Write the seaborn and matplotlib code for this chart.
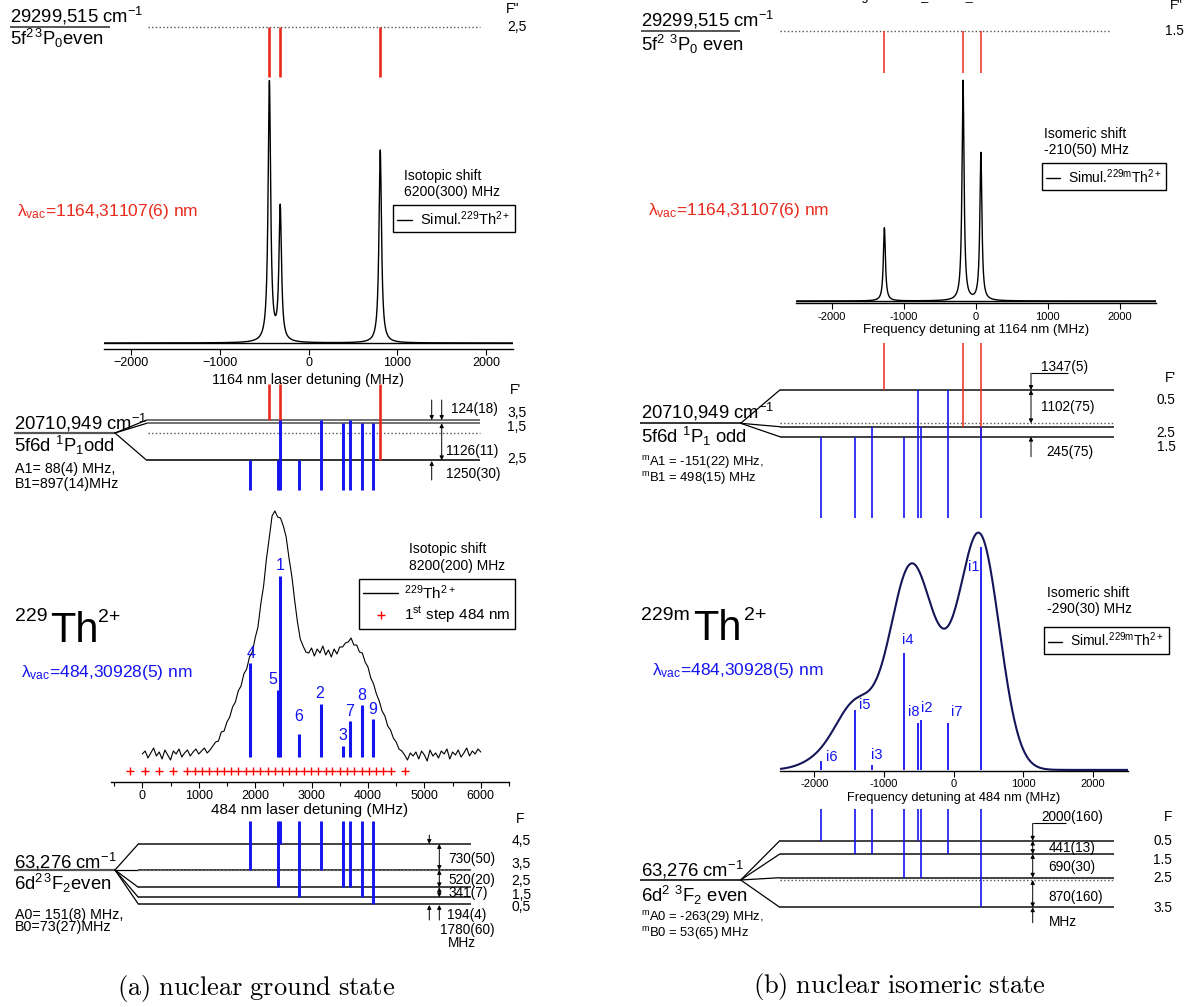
import numpy as np
import matplotlib
matplotlib.use("Agg")
import matplotlib.pyplot as plt
import seaborn as sns
from matplotlib.transforms import blended_transform_factory
from matplotlib.collections import LineCollection
from matplotlib.lines import Line2D
from matplotlib.ticker import MultipleLocator, FuncFormatter

# ====================== DATA ======================
# (a) nuclear ground state, 1164 nm step (simulated 229Th2+)
gs1164_peak_mhz = [-440, -318, 807]
gs1164_amp = [1.0, 0.515, 0.742]
gs1164_fprime = [3.5, 1.5, 2.5]          # from F''=2.5
lorentz_hwhm_mhz = 17

# (a) 484 nm step, measured scan
scan_start_mhz = 0
scan_step_mhz = 50
gs484_signal = [3, 6, -1, 4, 9, 1, 5, -2, 7, 2, -3, 6, 3, 8, 0, 4, 7, 1, 5, 8, 3, 6, 9, 4, 7,
                11, 15, 16, 25, 26, 35, 40, 50, 55, 66, 71, 83, 88, 100, 105, 119, 130, 153, 171, 198, 219, 241,
                246, 240, 239, 231, 220, 199, 181, 157, 135, 118,
                111, 105, 104, 109, 101, 108, 104, 111, 102, 107, 100, 108, 103, 110, 110, 114, 115, 119, 112, 112, 105, 104,
                95, 90, 79, 73, 63, 56, 46, 41, 31, 27, 19, 15, 8, 6, 2, -3, 4, 1,
                5, -2, 6, 2, -4, 7, 1, 4, -1, 6, 3, 8, -2, 5, 2, 7, 0, 4, 9, 1, 6, 3, 8, 5]
gs484_step_mhz = [-220, 40, 300, 550, 800, 930, 1060, 1190, 1320, 1450, 1580, 1700, 1830, 1960,
                  2090, 2220, 2350, 2480, 2600, 2730, 2860, 2990, 3120, 3250, 3370, 3500, 3630,
                  3760, 3890, 4020, 4140, 4270, 4400, 4660]
gs484_label = ["4", "5", "1", "6", "2", "3", "7", "8", "9"]
gs484_mhz = [1910, 2400, 2440, 2773, 3168, 3553, 3677, 3895, 4096]
gs484_height = [94, 67, 181, 23, 53, 11, 36, 52, 38]
gs484_fprime = [2.5, 2.5, 3.5, 2.5, 3.5, 1.5, 3.5, 1.5, 1.5]
gs484_f = [3.5, 2.5, 4.5, 1.5, 3.5, 2.5, 2.5, 1.5, 0.5]

# (b) nuclear isomeric state, 1164 nm step (simulated 229mTh2+)
is1164_peak_mhz = [-1270, -178, 70]
is1164_amp = [0.333, 1.0, 0.671]
is1164_fprime = [0.5, 2.5, 1.5]          # from F''=1.5

# (b) 484 nm step (simulated)
is484_label = ["i1", "i2", "i3", "i4", "i5", "i6", "i7", "i8"]
is484_mhz = [386, -473, -1165, -718, -1415, -1900, -76, -517]
is484_height = [224, 50, 5, 117, 60, 9, 47, 47]
is484_fprime = [2.5, 2.5, 2.5, 1.5, 1.5, 1.5, 0.5, 0.5]
is484_f = [3.5, 2.5, 1.5, 2.5, 1.5, 0.5, 1.5, 0.5]
gauss_sigma_mhz = 280

# ====================== STYLE ======================
sns.set_theme(style="white", rc={"text.color": "black", "axes.labelcolor": "black",
                                 "xtick.color": "black", "axes.edgecolor": "black"})
plt.rcParams["font.family"] = ["Liberation Sans", "DejaVu Sans"]
plt.rcParams["mathtext.fontset"] = "custom"
plt.rcParams["mathtext.rm"] = "Liberation Sans"
plt.rcParams["mathtext.it"] = "Liberation Sans:italic"
plt.rcParams["mathtext.bf"] = "Liberation Sans:bold"
plt.rcParams["mathtext.sf"] = "Liberation Sans"
plt.rcParams["mathtext.default"] = "regular"

RED = "#e8291c"
BLUE = "#1414f0"
NAVY = "#15155a"
GRAY = "#555555"

W, H = 1193, 1007
fig = plt.figure(figsize=(W / 100, H / 100), dpi=100)
bg = fig.add_axes([0, 0, 1, 1])
bg.set_xlim(0, W)
bg.set_ylim(H, 0)
bg.set_axis_off()
bg.set_autoscale_on(False)


def box(x0, y0, x1, y1):
    return [x0 / W, 1 - y1 / H, (x1 - x0) / W, (y1 - y0) / H]


def style_spec(ax, xlim, ylim, major, minor, fs, hyphen):
    ax.set_xlim(*xlim)
    ax.set_ylim(*ylim)
    for s in ["top", "left", "right"]:
        ax.spines[s].set_visible(False)
    ax.spines["bottom"].set_linewidth(1.0)
    ax.spines["bottom"].set_color("black")
    ax.set_yticks([])
    ax.set_ylabel("")
    ax.xaxis.set_major_locator(MultipleLocator(major))
    if minor:
        ax.xaxis.set_minor_locator(MultipleLocator(minor))
    ax.tick_params(axis="x", which="major", direction="out", length=4, width=0.8,
                   labelsize=fs, pad=2, bottom=True)
    ax.tick_params(axis="x", which="minor", direction="out", length=3, width=0.8, bottom=True)
    if hyphen:
        ax.xaxis.set_major_formatter(FuncFormatter(lambda v, p: f"{v:.0f}"))
    ax.patch.set_visible(False)
    ax.grid(False)


def T(x, y, s, size, ha="left", va="center", color="black", **kw):
    bg.text(x, y, s, fontsize=size, ha=ha, va=va, color=color, **kw)


def hline(x0, x1, y, color="#222222", lw=1.2, ls="-"):
    bg.plot([x0, x1], [y, y], color=color, lw=lw, ls=ls, solid_capstyle="butt")


def line(p0, p1, color="black", lw=1.0):
    bg.plot([p0[0], p1[0]], [p0[1], p1[1]], color=color, lw=lw)


def arrow(x, y_from, y_to, both=False):
    bg.annotate("", xy=(x, y_to), xytext=(x, y_from),
                arrowprops=dict(arrowstyle="<|-|>" if both else "-|>", color="black",
                                lw=0.7, mutation_scale=6, shrinkA=0, shrinkB=0))


def transitions(ax, xs, y0s, y1s, color, lw):
    trans = blended_transform_factory(ax.transData, bg.transData)
    segs = [[(x, a), (x, b)] for x, a, b in zip(xs, y0s, y1s)]
    lc = LineCollection(segs, colors=color, linewidths=lw, transform=trans)
    bg.add_collection(lc, autolim=False)


def sim_legend(ax, label, x0, y0, fs):
    h = [Line2D([0], [0], color="black", lw=1.0)]
    leg = ax.legend(h, [label], loc="upper left", bbox_to_anchor=(x0, y0),
                    bbox_transform=bg.transData, frameon=True, fancybox=False,
                    framealpha=1, edgecolor="black", fontsize=fs, handlelength=1.0,
                    handletextpad=0.6, borderpad=0.3, borderaxespad=0)
    leg.get_frame().set_linewidth(1.0)


# ====================== SPECTRUM AXES ======================
A1 = fig.add_axes(box(104, 80, 513, 348.7))
A2 = fig.add_axes(box(795.8, 75, 1155.9, 303.3))
A3 = fig.add_axes(box(111, 505, 509, 781.7))
A4 = fig.add_axes(box(779.5, 530, 1127.8, 770.7))

# --- A1: 1164 nm, ground state
x1 = np.linspace(-2300, 2300, 4601)
y1 = np.zeros_like(x1)
for p, a in zip(gs1164_peak_mhz, gs1164_amp):
    y1 += a / (1 + ((x1 - p) / lorentz_hwhm_mhz) ** 2)
sns.lineplot(x=x1, y=y1, ax=A1, color="black", lw=1.0, estimator=None, sort=False)
A1.axhline(0, color="black", lw=1.0)
style_spec(A1, (-2300, 2300), (-5.7 / 260, 263 / 260), 1000, None, 9, False)
A1.set_xlabel("1164 nm laser detuning (MHz)", fontsize=10.3, labelpad=2.5)
sim_legend(A1, r"Simul.$^{229}$Th$^{2+}$", 392.7, 205, 10.5)

# --- A2: 1164 nm, isomer
x2 = np.linspace(-2500, 2500, 5001)
y2 = np.zeros_like(x2)
for p, a in zip(is1164_peak_mhz, is1164_amp):
    y2 += a / (1 + ((x2 - p) / lorentz_hwhm_mhz) ** 2)
sns.lineplot(x=x2, y=y2, ax=A2, color="black", lw=1.0, estimator=None, sort=False)
A2.axhline(0, color="black", lw=1.0)
style_spec(A2, (-2500, 2500), (-2.3 / 220, 226 / 220), 1000, None, 8, True)
A2.set_xlabel("Frequency detuning at 1164 nm (MHz)", fontsize=9.5, labelpad=2)
sim_legend(A2, r"Simul.$^{229m}$Th$^{2+}$", 1041.8, 163.3, 10)

# --- A3: 484 nm, measured
scan_mhz = [scan_start_mhz + i * scan_step_mhz for i in range(len(gs484_signal))]
sns.lineplot(x=scan_mhz, y=gs484_signal, ax=A3, color="black", lw=0.8, estimator=None, sort=False)
A3.vlines(gs484_mhz, 0, gs484_height, color=BLUE, lw=2.2)
marker_level = -13.7
sns.scatterplot(x=gs484_step_mhz, y=[marker_level] * len(gs484_step_mhz), ax=A3,
                marker="+", color="red", s=28, linewidth=1.0, legend=False)
style_spec(A3, (-555, 6500), (-24.7, 252), 1000, 500, 9, False)
A3.set_xlabel("484 nm laser detuning (MHz)", fontsize=11, labelpad=1)
gs_label_off = [(0.7, 9.3), (-4.4, 10), (0, 10), (0, 17.6), (-1, 10.7), (0, 10), (0.3, 10), (-0.3, 9.3), (-1, 9.3)]
for lab, m, h, (dx, dy) in zip(gs484_label, gs484_mhz, gs484_height, gs_label_off):
    A3.annotate(lab, (m, h), xytext=(dx * 0.72, dy * 0.72), textcoords="offset points",
                ha="center", va="center", color=BLUE, fontsize=11.5)
h3 = [Line2D([0], [0], color="black", lw=1.0),
      Line2D([0], [0], marker="+", ls="none", color="red", markersize=6, mew=1.0)]
leg3 = A3.legend(h3, [r"$^{229}$Th$^{2+}$", r"1$^{st}$ step 484 nm"], loc="upper left",
                 bbox_to_anchor=(359.3, 579.3), bbox_transform=bg.transData, frameon=True,
                 fancybox=False, framealpha=1, edgecolor="black", fontsize=11,
                 handlelength=2.3, handletextpad=0.4, borderpad=0.25, borderaxespad=0,
                 labelspacing=0.2)
leg3.get_frame().set_linewidth(1.0)

# --- A4: 484 nm, isomer simulation
x4 = np.linspace(-2500, 2500, 1001)
y4 = np.zeros_like(x4)
for m, h in zip(is484_mhz, is484_height):
    y4 += h * np.exp(-(x4 - m) ** 2 / (2 * gauss_sigma_mhz ** 2))
sns.lineplot(x=x4, y=y4, ax=A4, color=NAVY, lw=1.5, estimator=None, sort=False)
A4.vlines(is484_mhz, 0, is484_height, color=BLUE, lw=1.3)
style_spec(A4, (-2500, 2500), (-0.8, 240.7), 1000, None, 8, True)
A4.set_xlabel("Frequency detuning at 484 nm (MHz)", fontsize=9.3, labelpad=2)
is_label_off = [(-7, -20), (5.7, 12.4), (4.2, 9.7), (4.6, 13.3), (9.5, 5.3), (10, 4), (8, 11.3), (-3.5, 11.3)]
for lab, m, h, (dx, dy) in zip(is484_label, is484_mhz, is484_height, is_label_off):
    A4.annotate(lab, (m, h), xytext=(dx * 0.72, dy * 0.72), textcoords="offset points",
                ha="center", va="center", color=BLUE, fontsize=10.5)
sim_legend(A4, r"Simul.$^{229m}$Th$^{2+}$", 1044, 626.7, 10)

# ====================== LEVEL DIAGRAMS (a) ======================
lvlA_up = {3.5: 420, 1.5: 423.3, 2.5: 460.3}
lvlA_low = {4.5: 844, 3.5: 870, 2.5: 887.3, 1.5: 897.3, 0.5: 904}

# top level
T(10, 16, r"29299,515 cm$^{-1}$", 13.3)
T(10, 38, r"5f$^{2\,3}$P$_0$even", 13.3)
hline(10, 110, 27, color=GRAY, lw=1.4)
hline(148, 480, 27, color=GRAY, lw=1.0, ls=":")
T(513, 9, 'F"', 10, ha="center")
T(517, 27, "2,5", 10, ha="center")

# 5f6d level
T(14, 422.7, r"20710,949 cm$^{-1}$", 13.3)
T(14, 445.7, r"5f6d $^1$P$_1$odd", 13.3)
T(15, 469, "A1= 88(4) MHz,", 10.3)
T(15, 484, "B1=897(14)MHz", 10.3)
hline(14, 115, 433, color=GRAY, lw=1.6)
for f, y in lvlA_up.items():
    line((115, 433), (146.7, y), lw=0.9)
    hline(146.7, 480, y, color="#666666" if f != 2.5 else "#222222", lw=1.3)
hline(148, 480, 433, color=GRAY, lw=1.0, ls=":")
arrow(431.7, 400, 420)
arrow(441.7, 400, 420)
arrow(441.7, 423.3, 460.3, both=True)
arrow(431.7, 480, 461)
T(450.7, 409.3, "124(18)", 9.8)
T(446, 450.7, "1126(11)", 9.8)
T(446, 474, "1250(30)", 9.8)
T(515, 390, "F'", 10, ha="center")
for f, y in zip([3.5, 1.5, 2.5], [413.3, 426.7, 459]):
    T(507.3, y, f"{f:.1f}".replace(".", ","), 10)

# 6d2 level
T(14, 861.7, r"63,276 cm$^{-1}$", 13.3)
T(14, 883.3, r"6d$^{2\,3}$F$_2$even", 13.3)
T(15, 915, "A0= 151(8) MHz,", 10.3)
T(15, 926.7, "B0=73(27)MHz", 10.3)
hline(14, 115, 870, color=GRAY, lw=1.6)
for f, y in lvlA_low.items():
    line((115, 870), (138.3, y), lw=0.9)
    hline(138.3, 470.7, y, color="#222222", lw=1.2)
hline(138.3, 470.7, 870, color="#888888", lw=1.0, ls=":")
arrow(429.3, 835, 844)
arrow(439.3, 844, 870, both=True)
arrow(439.3, 870, 887.3, both=True)
arrow(439.3, 887.3, 897.3, both=True)
arrow(429.3, 920, 905)
arrow(439.3, 920, 905)
T(448.3, 859, "730(50)", 9.8)
T(448.3, 880, "520(20)", 9.8)
T(448.3, 893.3, "341(7)", 9.8)
T(446.7, 915, "194(4)", 9.8)
T(440, 930, "1780(60)", 9.8)
T(448, 943.3, "MHz", 9.8)
T(520, 819.3, "F", 10, ha="center")
for f, y in zip([4.5, 3.5, 2.5, 1.5, 0.5], [841, 864, 880.7, 895, 907.3]):
    T(511.7, y, f"{f:.1f}".replace(".", ","), 10)

# big labels (a)
T(16.7, 211.7, r"λ$_{vac}$=1164,31107(6) nm", 12.5, color=RED)
T(20.7, 672.3, r"λ$_{vac}$=484,30928(5) nm", 12.5, color=BLUE)
T(15, 621, "229", 14, va="baseline")
T(50, 641.7, "Th", 30, va="baseline")
T(98.3, 621.7, "2+", 14, va="baseline")
T(409.3, 549.3, "Isotopic shift", 10)
T(409.3, 565.7, "8200(200) MHz", 10)
T(404, 176, "Isotopic shift", 10)
T(404, 192, "6200(300) MHz", 10)

# transitions (a)
transitions(A1, gs1164_peak_mhz, [27] * 3, [77] * 3, RED, 1.9)
transitions(A1, gs1164_peak_mhz, [384] * 3, [lvlA_up[f] for f in gs1164_fprime], RED, 1.9)
transitions(A3, gs484_mhz, [lvlA_up[f] for f in gs484_fprime], [490] * len(gs484_mhz), BLUE, 2.1)
transitions(A3, gs484_mhz, [820.7] * len(gs484_mhz), [lvlA_low[f] for f in gs484_f], BLUE, 2.1)

# ====================== LEVEL DIAGRAMS (b) ======================
lvlB_up = {0.5: 390, 2.5: 426.7, 1.5: 436.7}
lvlB_low = {0.5: 840.7, 1.5: 854, 2.5: 877.7, 3.5: 907.3}

T(930, -3, "Fig. 229mTh_isomer_84.ear", 9, ha="center")
T(641, 20, r"29299,515 cm$^{-1}$", 13.3)
T(641, 44, r"5f$^2$ $^3$P$_0$ even", 13.3)
hline(641, 740, 31, color=GRAY, lw=1.4)
hline(779.8, 1111.4, 31, color=GRAY, lw=1.0, ls=":")
T(1176, 6, 'F"', 9.5, ha="center")
T(1164.6, 30.7, "1.5", 9.8)

T(641, 411.7, r"20710,949 cm$^{-1}$", 13.3)
T(641, 436.7, r"5f6d $^1$P$_1$ odd", 13.3)
T(641, 462.5, r"$^m$A1 = -151(22) MHz,", 9.4)
T(641, 478.5, r"$^m$B1 = 498(15) MHz", 9.4)
hline(640, 740.7, 423.3, color="#333333", lw=1.4)
for f, y in lvlB_up.items():
    line((740.7, 423.3), (779.8, y), lw=0.9)
    hline(779.8, 1114, y, color="#222222", lw=1.2)
hline(779.8, 1114, 423.3, color=GRAY, lw=1.0, ls=":")
hline(1031, 1068, 373.3, color="black", lw=0.8)
arrow(1031, 373.3, 390)
arrow(1031, 390, 423.3, both=True)
arrow(1031, 456.7, 436.7)
T(1041, 366.7, "1347(5)", 9.8)
T(1040.7, 406.7, "1102(75)", 9.8)
T(1046.7, 451.7, "245(75)", 9.8)
T(1170, 378, "F'", 9.8, ha="center")
for f, y in zip([0.5, 2.5, 1.5], [400, 432.7, 447.3]):
    T(1156.7, y, f"{f:.1f}", 9.8)

T(641, 870, r"63,276 cm$^{-1}$", 13.3)
T(641, 895, r"6d$^2$ $^3$F$_2$ even", 13.3)
T(641, 917.5, r"$^m$A0 = -263(29) MHz,", 9.4)
T(641, 933.5, r"$^m$B0 = 53(65) MHz", 9.4)
hline(640, 740.7, 880, color="#333333", lw=1.4)
for f, y in lvlB_low.items():
    line((740.7, 880), (779.8, y), lw=0.9)
    hline(779.8, 1114, y, color="#222222", lw=1.2)
hline(779.8, 1114, 880, color=GRAY, lw=1.0, ls=":")
hline(1032.7, 1066, 823.3, color="black", lw=0.8)
arrow(1032.7, 823.3, 840.7)
arrow(1032.7, 840.7, 854, both=True)
arrow(1032.7, 854, 877.7, both=True)
arrow(1032.7, 880, 907.3, both=True)
arrow(1032.7, 922.7, 907.3)
T(1041, 817.3, "2000(160)", 9.8)
T(1048.7, 848.3, "441(13)", 9.8)
T(1048.7, 867.3, "690(30)", 9.8)
T(1048.7, 896.7, "870(160)", 9.8)
T(1048.7, 921.7, "MHz", 9.8)
T(1168.4, 816.7, "F", 9.8, ha="center")
for f, y in zip([0.5, 1.5, 2.5, 3.5], [840.7, 860, 877.7, 908.3]):
    T(1153, y, f"{f:.1f}", 9.8)

T(647.5, 210, r"λ$_{vac}$=1164,31107(6) nm", 12.5, color=RED)
T(652, 670, r"λ$_{vac}$=484,30928(5) nm", 12.5, color=BLUE)
T(641, 620, "229m", 14, va="baseline")
T(693.2, 640, "Th", 30, va="baseline")
T(743.7, 620, "2+", 14, va="baseline")
T(1044, 134.3, "Isomeric shift", 10)
T(1044, 150, "-210(50) MHz", 10)
T(1047, 593.3, "Isomeric shift", 10)
T(1047, 609.3, "-290(30) MHz", 10)

transitions(A2, is1164_peak_mhz, [31] * 3, [73.3] * 3, RED, 1.1)
transitions(A2, is1164_peak_mhz, [343] * 3, [lvlB_up[f] for f in is1164_fprime], RED, 1.1)
transitions(A4, is484_mhz, [lvlB_up[f] for f in is484_fprime], [518.3] * len(is484_mhz), BLUE, 1.2)
transitions(A4, is484_mhz, [809.3] * len(is484_mhz), [lvlB_low[f] for f in is484_f], BLUE, 1.2)

# ====================== CAPTIONS ======================
T(256, 988, r"$\mathrm{(a)\ nuclear\ ground\ state}$", 19, ha="center", math_fontfamily="cm")
T(899, 987, r"$\mathrm{(b)\ nuclear\ isomeric\ state}$", 19, ha="center", math_fontfamily="cm")

fig.savefig("out.png", dpi=100)
